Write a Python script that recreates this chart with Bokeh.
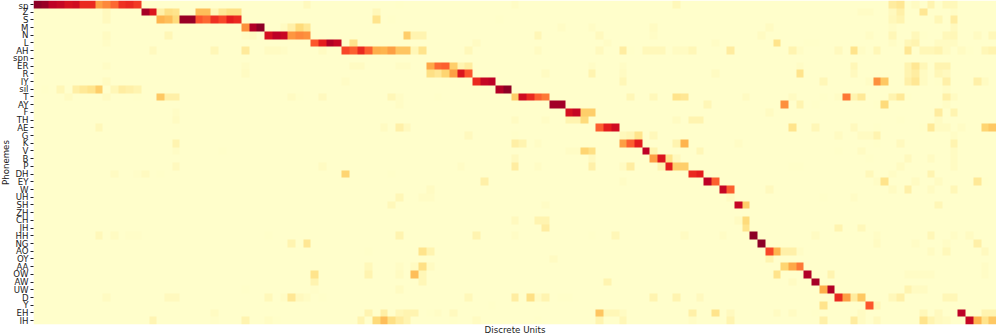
from bokeh.embed import file_html
from bokeh.resources import INLINE
from bokeh.plotting import figure
from bokeh.models import LinearColorMapper, FixedTicker, AllLabels, Title
from bokeh.palettes import YlOrRd9
import numpy as np

phonemes = ["sp","Z","S","M","N","L","AH","spn","ER","R","IY","sil","T","AY","F","TH","AE","G","K","V","B","P",
            "DH","EY","W","UH","SH","ZH","CH","JH","HH","NG","AO","OY","AA","OW","AW","UW","D","Y","EH","IH"]
n_units = 125
x_label = "Discrete Units"
y_label = "Phonemes"
background_level = 0.027

# unit index -> normalised activation, per phoneme
sp = {0:.97,1:.95,2:.87,3:.85,4:.8,5:.82,6:.72,7:.72,8:.45,9:.52,10:.58,11:.7,12:.72,13:.68,35:.06,47:.03,62:.04,83:.07,111:.15,112:.18,114:.05,116:.1,118:.07,119:.07}
Z = {9:.06,14:.92,15:.78,16:.12,17:.22,18:.2,19:.02,20:.02,21:.35,22:.35,23:.08,24:.18,25:.22,26:.22,44:.07,107:.04,108:.04,111:.06,112:.12,115:.18,119:.04}
S = {9:.06,15:.03,16:.38,17:.35,18:.25,19:.95,20:.95,21:.62,22:.58,23:.7,24:.65,25:.75,26:.72,44:.2,46:.03,60:.03,111:.07,112:.1,117:.08,119:.15}
M = {27:.5,28:.9,29:.97,32:.05,33:.12,34:.25,35:.18,68:.04,72:.04,80:.05,95:.05,111:.04,119:.06}
N = {9:.05,17:.08,27:.04,28:.05,30:.8,31:.87,32:.84,33:.48,34:.52,35:.5,48:.3,49:.1,50:.1,65:.08,73:.06,80:.04,94:.05,108:.04,111:.08,114:.07,115:.03,118:.07,119:.08,122:.05,124:.07}
L = {9:.04,36:.62,37:.75,38:.9,39:.85,41:.2,57:.05,74:.04,88:.04,96:.2,100:.03,101:.03,111:.04,113:.08,114:.1,117:.05,118:.05,119:.05}
AH = {15:.06,23:.08,27:.16,30:.05,31:.05,32:.04,37:.05,40:.65,41:.6,42:.72,43:.6,44:.4,45:.38,46:.45,47:.33,48:.33,49:.08,50:.2,56:.07,65:.05,73:.06,76:.14,77:.03,79:.07,80:.07,81:.07,83:.05,84:.05,85:.08,90:.15,98:.1,99:.04,104:.06,106:.2,107:.04,109:.08,113:.18,115:.08,116:.08,117:.1,118:.05,120:.05,121:.03,123:.08,124:.1}
spn = {}
ER = {9:.04,27:.04,41:.05,42:.05,47:.04,48:.04,51:.42,52:.58,53:.6,54:.3,55:.1,56:.15,72:.04,76:.04,99:.04,106:.08,113:.1,114:.18,115:.08,117:.1,118:.1}
R = {27:.05,51:.22,52:.18,53:.28,54:.45,55:.78,56:.62,66:.05,72:.1,76:.05,88:.05,99:.2,106:.06,113:.1,114:.14,115:.05,117:.08,118:.06}
IY = {9:.05,40:.04,57:.72,58:.85,59:.87,76:.08,102:.08,108:.04,109:.5,110:.32,113:.12,114:.18,115:.05,117:.03,118:.12,122:.12,123:.05}
sil = {1:.03,3:.08,5:.13,6:.17,7:.2,8:.3,10:.08,11:.14,12:.12,13:.1,60:.9,61:.97,118:.04}
T = {4:.05,9:.05,13:.03,16:.32,17:.12,18:.12,33:.05,34:.03,37:.06,46:.08,47:.04,52:.03,62:.3,63:.82,64:.72,65:.6,66:.55,77:.08,80:.07,83:.2,84:.18,92:.05,98:.05,102:.03,104:.04,105:.55,106:.1,107:.17,111:.1,112:.17,113:.03,118:.12,119:.05}
AY = {47:.04,67:.93,68:.93,87:.08,97:.5,99:.1,101:.03,109:.03,110:.25,118:.04}
F = {18:.04,69:.8,70:.85,71:.3,72:.3,95:.05,117:.15,119:.1}
TH = {18:.05,23:.02,62:.05,66:.04,69:.1,70:.1,71:.25,83:.05,85:.1,86:.1,112:.03,117:.05}
AE = {8:.07,10:.02,45:.05,47:.12,48:.06,73:.6,74:.75,75:.82,98:.2,101:.08,106:.06,109:.03,115:.03,116:.17,117:.05,118:.05,120:.04,123:.28,124:.32}
G = {56:.06,62:.03,76:.07,77:.09,78:.2,80:.07,104:.05,107:.05,108:.05,109:.1,119:.04}
K = {13:.02,18:.1,62:.13,63:.1,65:.04,76:.45,77:.6,78:.75,83:.1,84:.38,91:.04,109:.03,112:.06,119:.1}
V = {18:.04,24:.03,69:.04,70:.04,71:.28,72:.22,79:.87,80:.1,86:.08,104:.03,107:.05,119:.05}
B = {62:.06,72:.06,80:.45,81:.78,82:.2,83:.06,108:.03,113:.06,116:.05,119:.05}
P = {18:.06,37:.05,55:.04,62:.14,65:.04,72:.12,76:.05,77:.14,81:.1,82:.75,83:.3,84:.3,98:.03,99:.03,112:.05,119:.05}
DH = {10:.05,13:.035,14:.055,16:.03,40:.28,46:.03,85:.72,86:.75,108:.07,111:.04,116:.1}
EY = {58:.12,73:.02,76:.04,87:.87,88:.6,109:.04,110:.2,114:.05,117:.05,122:.17,123:.03}
W = {8:.02,18:.02,51:.05,89:.85,90:.6,95:.06,111:.05,113:.12,116:.05,119:.08}
UH = {47:.08,50:.04,51:.04,90:.05,102:.03,106:.04}
SH = {24:.02,46:.07,66:.04,91:.85,92:.3,117:.08}
ZH = {}
CH = {18:.02,62:.06,65:.1,66:.1,91:.05,92:.25}
JH = {66:.14,92:.2,104:.1,107:.07}
HH = {1:.02,3:.02,8:.07,10:.05,12:.035,13:.035,30:.03,47:.1,57:.1,62:.04,72:.03,75:.08,84:.05,89:.04,93:.97,101:.05,109:.04,116:.08,119:.04,121:.05}
NG = {33:.1,35:.18,94:.97,109:.05,114:.04,118:.04,122:.12}
AO = {43:.03,50:.2,51:.1,95:.65,96:.38,97:.12,98:.12,99:.04,116:.05,118:.07,123:.06}
OY = {67:.05,95:.1}
AA = {43:.07,47:.04,49:.05,50:.22,51:.05,97:.28,98:.42,99:.55,123:.04}
OW = {36:.2,43:.1,47:.05,49:.35,50:.08,96:.2,100:.9,103:.1,113:.04,114:.04,115:.04,116:.04,123:.04}
AW = {36:.1,50:.08,74:.1,98:.05,101:.92}
UW = {27:.03,36:.035,47:.05,102:.4,103:.9,113:.1,114:.05,115:.05}
D = {9:.05,17:.06,18:.06,30:.07,32:.04,33:.18,34:.06,35:.045,37:.03,56:.07,62:.14,64:.22,65:.05,66:.1,68:.03,69:.03,80:.1,83:.1,86:.06,104:.72,105:.45,106:.15,107:.32,111:.07,112:.12,118:.08,119:.08}
Y = {59:.03,102:.2,108:.62,109:.08}
EH = {23:.05,27:.025,43:.1,45:.13,47:.08,48:.1,49:.1,51:.03,52:.04,54:.06,73:.33,74:.08,75:.08,76:.05,85:.12,88:.2,90:.06,96:.05,98:.05,101:.03,107:.05,115:.07,117:.06,120:.87,123:.1,124:.1}
IH = {15:.09,23:.035,27:.1,30:.045,31:.03,42:.1,44:.25,45:.35,46:.22,47:.15,48:.1,54:.03,57:.05,65:.03,73:.1,76:.08,85:.04,90:.1,102:.12,106:.15,107:.05,109:.06,115:.2,116:.1,117:.06,118:.05,121:.85,122:.38,123:.2,124:.32}

rows = [sp,Z,S,M,N,L,AH,spn,ER,R,IY,sil,T,AY,F,TH,AE,G,K,V,B,P,DH,EY,W,UH,SH,ZH,CH,JH,HH,NG,AO,OY,AA,OW,AW,UW,D,Y,EH,IH]

n = len(phonemes)
matrix = np.full((n, n_units), background_level)
for r, row in enumerate(rows):
    for c, v in row.items():
        matrix[n - 1 - r, c] = max(v, background_level)

# continuous YlOrRd: light to dark, spread from the 9-class anchors
anchors = np.array([[int(h[i:i+2], 16) for i in (1, 3, 5)] for h in reversed(YlOrRd9)], dtype=float)
pos = np.linspace(0, 1, len(anchors))
t = np.linspace(0, 1, 256)
palette = ["#%02x%02x%02x" % tuple(int(round(np.interp(s, pos, anchors[:, k]))) for k in range(3)) for s in t]
mapper = LinearColorMapper(palette=palette, low=0.02, high=1)

p = figure(width=996, height=336, output_backend="svg", toolbar_location=None,
           x_range=(0, n_units), y_range=(0, n),
           min_border_left=33, min_border_right=0, min_border_top=0, min_border_bottom=12,
           background_fill_color="white", border_fill_color="white", outline_line_color=None)
p.styles = {"position": "absolute", "left": "0px", "top": "0px"}
p.image(image=[matrix], x=0, y=0, dw=n_units, dh=n, color_mapper=mapper)
p.grid.visible = False
p.xaxis.visible = False

ticks = [n - 0.5 - i for i in range(n)]
p.yaxis.ticker = FixedTicker(ticks=ticks)
p.yaxis.major_label_overrides = {t: name for t, name in zip(ticks, phonemes)}
p.yaxis.major_label_policy = AllLabels()
p.yaxis.axis_line_color = None
p.yaxis.minor_tick_line_color = None
p.yaxis.major_tick_line_color = "#222222"
p.yaxis.major_tick_in = 0
p.yaxis.major_tick_out = 3
p.yaxis.major_label_standoff = 2
p.yaxis.major_label_text_font = "DejaVu Sans"
p.yaxis.major_label_text_font_size = "8.6px"
p.yaxis.major_label_text_color = "#222222"

p.add_layout(Title(text=x_label, align="center", vertical_align="middle", standoff=-2,
                   text_font="DejaVu Sans", text_font_size="8.7px", text_font_style="normal",
                   text_color="#222222"), "below")
p.add_layout(Title(text=y_label, align="center", vertical_align="middle", standoff=-2,
                   text_font="DejaVu Sans", text_font_size="8.6px", text_font_style="normal",
                   text_color="#222222"), "left")

open("out.html", "w").write(file_html(p, INLINE))
